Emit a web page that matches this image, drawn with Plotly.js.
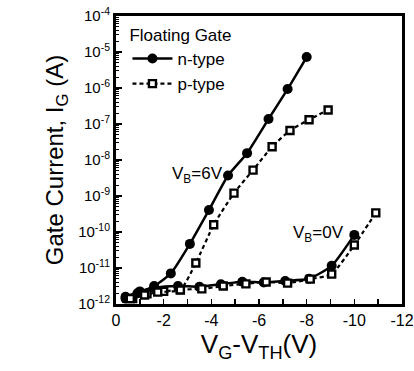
<!DOCTYPE html>
<html><head><meta charset="utf-8">
<script src="https://cdn.plot.ly/plotly-3.0.1.min.js"></script>
<style>html,body{margin:0;padding:0;background:#fff}#chart{width:414px;height:371px}</style>
</head><body><div id="chart"></div>
<script>
// V_B = 6V
const n6_x = [-0.4, -0.9, -1.6, -2.3, -3.1, -3.9, -4.7, -5.5, -6.4, -7.2, -8.0];
const n6_logI = [-11.85, -11.7, -11.5, -11.15, -10.33, -9.39, -8.43, -7.81, -6.86, -6.03, -5.14];
const p6_x = [-0.6, -1.2, -1.75, -2.7, -3.35, -4.1, -4.95, -5.75, -6.55, -7.3, -8.1, -8.9];
const p6_logI = [-11.85, -11.75, -11.67, -11.61, -10.86, -9.8, -8.92, -8.28, -7.63, -7.18, -6.88, -6.61];
// V_B = 0V
const n0_x = [-0.4, -1.0, -1.6, -2.6, -3.5, -4.4, -5.3, -6.2, -7.1, -8.1, -9.05, -10.0];
const n0_logI = [-11.8, -11.65, -11.55, -11.5, -11.52, -11.45, -11.38, -11.4, -11.36, -11.3, -10.94, -10.08];
const p0_x = [-0.7, -1.3, -2.0, -2.7, -3.6, -4.5, -5.45, -6.3, -7.2, -8.15, -9.05, -10.0, -10.9];
const p0_logI = [-11.85, -11.72, -11.65, -11.6, -11.58, -11.5, -11.44, -11.39, -11.42, -11.31, -11.17, -10.36, -9.47];

const yTickVals = [-12, -11, -10, -9, -8, -7, -6, -5, -4];
const yTickText = yTickVals.map(v => '10<sup>' + v + '</sup>');
const xTickVals = [0, -2, -4, -6, -8, -10, -12];
const xTickText = xTickVals.map(v => String(v));

const pw = l => l.map(v => Math.pow(10, v));
const nStyle = {mode:'lines+markers', line:{color:'#000', width:2.5, shape:'spline', smoothing:0.5},
  marker:{symbol:'circle', size:10, color:'#000'}};
const pStyle = {mode:'lines+markers', line:{color:'#000', width:2.2, dash:'4px,3px', shape:'spline', smoothing:0.5},
  marker:{symbol:'square', size:7, color:'#fff', line:{color:'#000', width:2.4}}};

const traces = [
  Object.assign({x:n0_x, y:pw(n0_logI), name:'n-type', showlegend:false}, nStyle),
  Object.assign({x:p0_x, y:pw(p0_logI), name:'p-type', showlegend:false}, pStyle),
  Object.assign({x:n6_x, y:pw(n6_logI), name:'n-type', showlegend:true}, nStyle),
  Object.assign({x:p6_x, y:pw(p6_logI), name:'p-type', showlegend:true}, pStyle)
];

const font = {family:'Liberation Sans, Arial, Helvetica, sans-serif', color:'#000'};
const layout = {
  width:414, height:371,
  margin:{l:116, r:12, t:16, b:67},
  paper_bgcolor:'#fff', plot_bgcolor:'#fff',
  font: Object.assign({size:15}, font),
  showlegend:true,
  legend:{x:0.04, y:0.99, xanchor:'left', yanchor:'top', bgcolor:'rgba(0,0,0,0)',
    font:Object.assign({size:17}, font), itemwidth:40, tracegroupgap:0,
    title:{text:'Floating Gate', font:Object.assign({size:17}, font)}},
  xaxis:{range:[0,-12], showgrid:false, zeroline:false, showline:true, linewidth:3, linecolor:'#000', mirror:true,
    ticks:'inside', ticklen:5, tickwidth:1.5, tickcolor:'#000', tickvals:xTickVals, ticktext:xTickText,
    tickfont:Object.assign({size:16}, font),
    minor:{ticks:'inside', ticklen:5, tickwidth:1.5, tickcolor:'#000', dtick:1, showgrid:false},
    title:{text:'V<sub>G</sub>-V<sub>TH</sub>(V)', font:Object.assign({size:26}, font), standoff:4}},
  yaxis:{type:'log', range:[-12,-4], showgrid:false, zeroline:false, showline:true, linewidth:3, linecolor:'#000', mirror:true,
    ticks:'inside', ticklen:6, tickwidth:1.5, tickcolor:'#000', tickvals:pw(yTickVals), ticktext:yTickText,
    tickfont:Object.assign({size:15}, font),
    minor:{ticks:'inside', ticklen:3, tickwidth:1, tickcolor:'#000', dtick:'D1', showgrid:false},
    title:{text:'Gate Current, I<sub>G</sub> (A)', font:Object.assign({size:24}, font), standoff:8}},
  annotations:[
    {x:-3.4, y:-8.42, xref:'x', yref:'y', text:'V<sub>B</sub>=6V', showarrow:false, font:Object.assign({size:17}, font)},
    {x:-8.5, y:-10.05, xref:'x', yref:'y', text:'V<sub>B</sub>=0V', showarrow:false, font:Object.assign({size:17}, font)}
  ]
};
Plotly.newPlot('chart', traces, layout, {displayModeBar:false, staticPlot:true});
</script></body></html>
